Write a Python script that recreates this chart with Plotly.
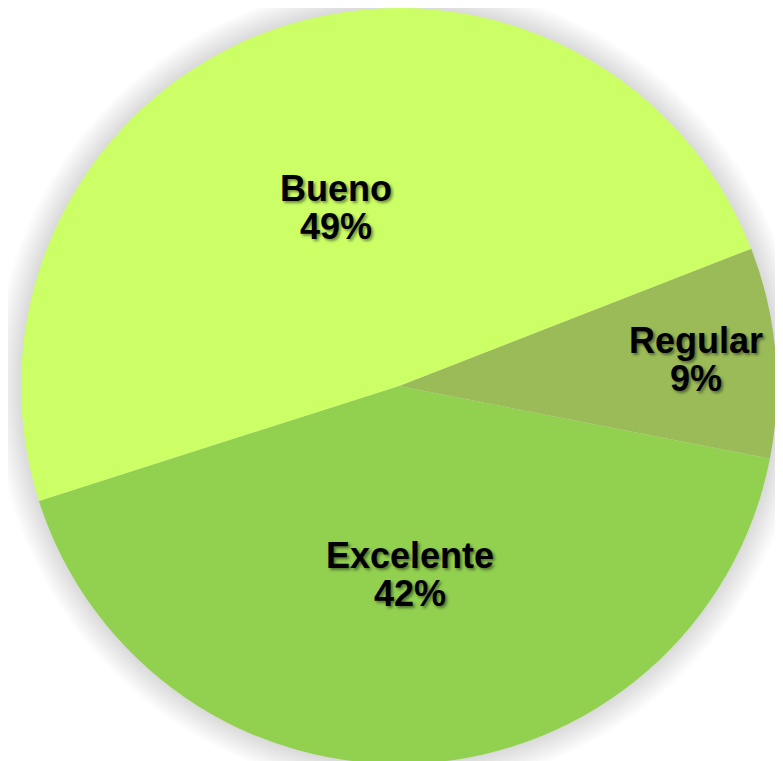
import math
import plotly.graph_objects as go

labels = ['Regular', 'Excelente', 'Bueno']
values = [9, 42, 49]
colors = ['#9BBB59', '#92D050', '#CCFF66']

W, H = 783, 761
OFF = 8  # page body margin in front of the plot div
dom_x = [0.0153, 0.9834]
dom_y = [0.0066, 1.0]
start_deg = 68.7          # clockwise from 12 o'clock
label_r = [0.79, 0.5, 0.5]  # label distance as part of the radius

fig = go.Figure(go.Pie(
    labels=labels,
    values=values,
    sort=False,
    direction='clockwise',
    rotation=start_deg,
    marker=dict(colors=colors, line=dict(width=0)),
    textinfo='none',
    domain=dict(x=dom_x, y=dom_y),
    hoverinfo='label+percent',
))

# pie geometry in figure pixels
cx = (dom_x[0] + dom_x[1]) / 2 * W
r = min((dom_x[1] - dom_x[0]) * W, (dom_y[1] - dom_y[0]) * H) / 2
cy = H - (dom_y[0] * H + r)

# soft gray glow round the pie
for i in range(12, 0, -1):
    rr = r + i * 2.2
    fig.add_shape(
        type='circle', xref='paper', yref='paper', layer='below',
        x0=(cx - rr) / W, x1=(cx + rr) / W,
        y0=(H - cy - rr) / H, y1=(H - cy + rr) / H,
        fillcolor='rgba(0,0,0,0.013)', line=dict(width=0),
    )

# labels: name and percent, Excel-style
font = dict(family='Liberation Sans, Arial', size=36, color='black',
            shadow='2px 2px 3px rgba(0,0,0,0.45)')
total = sum(values)
acc = 0
for lab, v, f in zip(labels, values, label_r):
    mid = start_deg + (acc + v / 2) / total * 360
    acc += v
    a = math.radians(90 - mid)
    px = cx + f * r * math.cos(a)
    py = cy - f * r * math.sin(a)
    for txt, ys in ((lab, 19), (f'{round(v / total * 100)}%', -19)):
        fig.add_annotation(
            x=px / W, y=1 - py / H, xref='paper', yref='paper',
            text=f'<b>{txt}</b>', showarrow=False, font=font,
            xanchor='center', yanchor='middle', yshift=ys,
        )

fig.update_layout(
    width=W, height=H,
    showlegend=False,
    paper_bgcolor='white',
    plot_bgcolor='white',
    margin=dict(l=0, r=0, t=0, b=0),
)

fig.write_html('out.html')
